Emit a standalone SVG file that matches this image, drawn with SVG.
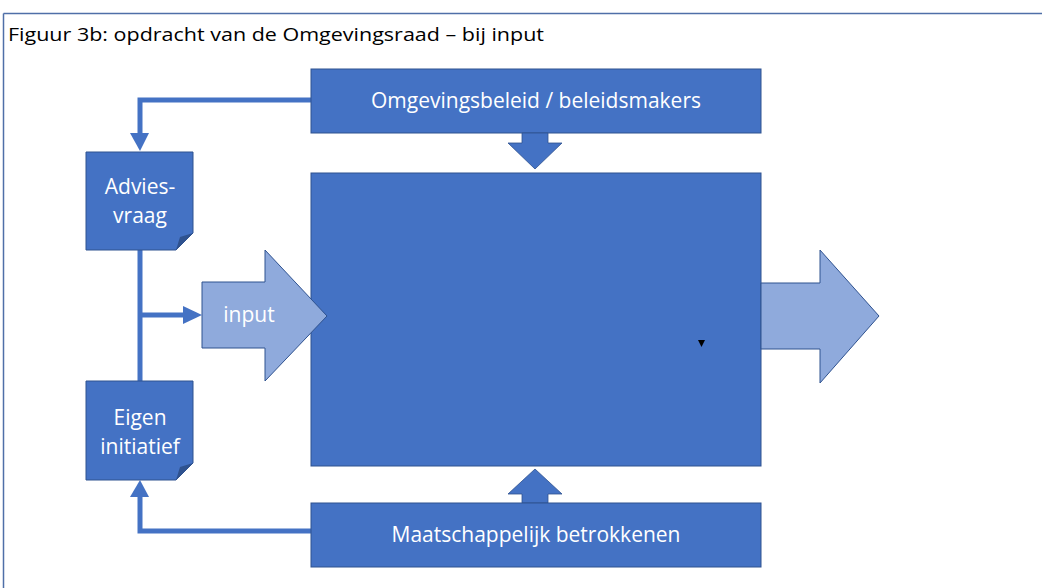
<svg xmlns="http://www.w3.org/2000/svg" width="1042" height="588" viewBox="0 0 1042 588">
<style>
.box{fill:#4472C4;stroke:#2F528F;stroke-width:1}
.fold{fill:#2F528F;stroke:none}
.arrowL{fill:#8FAADC;stroke:#2F528F;stroke-width:1}
.blk{fill:#4472C4;stroke:#2F528F;stroke-width:0.8}
.lbl{font-family:"Open Sans","Liberation Sans",sans-serif;fill:#FFFFFF;font-size:21px;text-anchor:middle}
.conn{fill:none;stroke:#4472C4;stroke-width:5}
.head{fill:#4472C4;stroke:none}
</style>
<rect width="1042" height="588" fill="#FFFFFF"/>
<g id="frame">
<line x1="3.5" y1="13.5" x2="1042" y2="13.5" stroke="#4F6FA8" stroke-width="1.5"/>
<line x1="3.5" y1="13.5" x2="3.5" y2="588" stroke="#4F6FA8" stroke-width="1.5"/>
<text x="8" y="41" font-family="'Open Sans','Liberation Sans',sans-serif" font-size="19" fill="#000" textLength="536" lengthAdjust="spacingAndGlyphs">Figuur 3b: opdracht van de Omgevingsraad – bij input</text>
</g>
<g id="connectors">
<polyline class="conn" points="311,100 140,100 140,136"/>
<polygon class="head" points="130,133 149,133 140,151"/>
<line class="conn" x1="140" y1="250" x2="140" y2="381"/>
<line class="conn" x1="140" y1="315" x2="186" y2="315"/>
<polygon class="head" points="183,306 202,315 183,324"/>
<polyline class="conn" points="311,531 140,531 140,494"/>
<polygon class="head" points="130,497 149,497 140,480"/>
</g>
<g id="beleid">
<rect class="box" x="311" y="69" width="450" height="64"/>
<text class="lbl" x="536" y="108">Omgevingsbeleid / beleidsmakers</text>
</g>
<g id="arrow-down">
<polygon class="blk" points="522,133 548,133 548,143 562,143 535,169 508,143 522,143"/>
</g>
<g id="main">
<rect class="box" x="311" y="173" width="450" height="293"/>
<polygon points="698,340 705,340 701.5,347" fill="#000"/>
</g>
<g id="arrow-up">
<polygon class="blk" points="522,503 548,503 548,494 562,494 535,469 508,494 522,494"/>
</g>
<g id="maatschappelijk">
<rect class="box" x="311" y="503" width="450" height="64"/>
<text class="lbl" x="536" y="542">Maatschappelijk betrokkenen</text>
</g>
<g id="adviesvraag">
<polygon class="box" points="86,152 193,152 193,233 176,250 86,250"/>
<polygon class="fold" points="176,250 180,237 193,233"/>
<text class="lbl" x="140" y="194">Advies-</text>
<text class="lbl" x="140" y="223">vraag</text>
</g>
<g id="eigen">
<polygon class="box" points="86,381 193,381 193,463 176,480 86,480"/>
<polygon class="fold" points="176,480 180,467 193,463"/>
<text class="lbl" x="140" y="425">Eigen</text>
<text class="lbl" x="140" y="454">initiatief</text>
</g>
<g id="input">
<polygon class="arrowL" points="202,282 265,282 265,250 327,316 265,381 265,348 202,348"/>
<text class="lbl" x="249" y="322">input</text>
</g>
<g id="output">
<polygon class="arrowL" points="761,283 820,283 820,250 879,316 820,383 820,349 761,349"/>
</g>
</svg>
